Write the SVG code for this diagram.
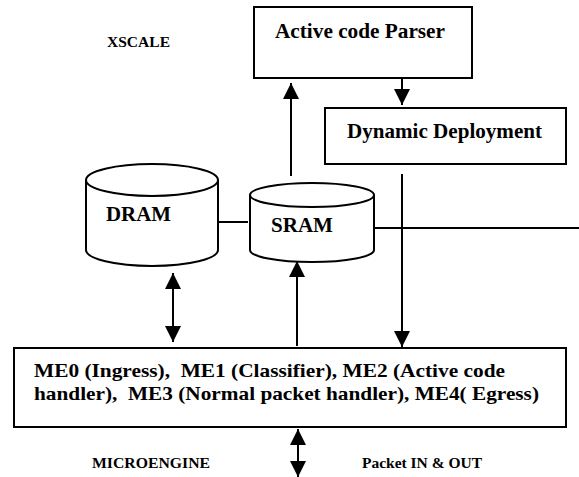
<svg xmlns="http://www.w3.org/2000/svg" width="579" height="477" viewBox="0 0 579 477">
<defs>
<marker id="ah" viewBox="0 0 16 16" refX="16" refY="8" markerWidth="16" markerHeight="16" markerUnits="userSpaceOnUse" orient="auto-start-reverse">
<path d="M0,0 L16,8 L0,16 Z" fill="#000"/>
</marker>
</defs>
<style>
.box{fill:#fff;stroke:#000;stroke-width:2}
.cyl{fill:#fff;stroke:#000;stroke-width:2}
.ln{fill:none;stroke:#000;stroke-width:2}
.t{font-family:"Liberation Serif","Times New Roman",Times,serif;font-weight:700;fill:#000;white-space:pre}
.big{font-size:21px}
.me{font-size:19px}
.sm{font-size:15.5px}
</style>
<rect width="579" height="477" fill="#fff"/>
<g id="connectors">
<line class="ln" x1="291" y1="176" x2="291" y2="83" marker-end="url(#ah)"/>
<line class="ln" x1="402" y1="78" x2="402" y2="105" marker-end="url(#ah)"/>
<line class="ln" x1="402" y1="174" x2="402" y2="347" marker-end="url(#ah)"/>
<line class="ln" x1="218" y1="222" x2="248" y2="222"/>
<line class="ln" x1="374" y1="228" x2="579" y2="228"/>
<line class="ln" x1="173" y1="273" x2="173" y2="342" marker-start="url(#ah)" marker-end="url(#ah)"/>
<line class="ln" x1="297" y1="346" x2="297" y2="261" marker-end="url(#ah)"/>
<line class="ln" x1="298" y1="429" x2="298" y2="477" marker-start="url(#ah)" marker-end="url(#ah)"/>
</g>
<g id="xscale-label"><text class="t sm" font-family="Liberation Serif, serif" x="107" y="47" textLength="63" lengthAdjust="spacingAndGlyphs">XSCALE</text></g>
<g id="parser">
<rect class="box" x="254" y="7" width="218" height="71"/>
<text class="t big" x="275" y="38" textLength="170" lengthAdjust="spacingAndGlyphs">Active code Parser</text>
</g>
<g id="deployment">
<rect class="box" x="325" y="108" width="241" height="56"/>
<text class="t big" x="347" y="138" textLength="195" lengthAdjust="spacingAndGlyphs">Dynamic Deployment</text>
</g>
<g id="dram">
<path class="cyl" d="M86,180 L86,250 A66,16 0 0 0 218,250 L218,180"/>
<ellipse class="cyl" cx="152" cy="180" rx="66" ry="16"/>
<text class="t big" x="106" y="221" textLength="65" lengthAdjust="spacingAndGlyphs">DRAM</text>
</g>
<g id="sram">
<path class="cyl" d="M250,195 L250,250 A62,12 0 0 0 374,250 L374,195"/>
<ellipse class="cyl" cx="312" cy="195" rx="62" ry="12"/>
<text class="t big" x="271" y="232" textLength="62" lengthAdjust="spacingAndGlyphs">SRAM</text>
</g>
<g id="microengine">
<rect class="box" x="14" y="348" width="552" height="79"/>
<text class="t me" x="34" y="377" textLength="471" lengthAdjust="spacingAndGlyphs">ME0 (Ingress),  ME1 (Classifier), ME2 (Active code</text>
<text class="t me" x="34" y="400" textLength="505" lengthAdjust="spacingAndGlyphs">handler),  ME3 (Normal packet handler), ME4( Egress)</text>
</g>
<g id="labels">
<text class="t sm" x="92" y="468" textLength="118" lengthAdjust="spacingAndGlyphs">MICROENGINE</text>
<text class="t sm" x="362" y="468" textLength="120" lengthAdjust="spacingAndGlyphs">Packet IN &amp; OUT</text>
</g>
</svg>
